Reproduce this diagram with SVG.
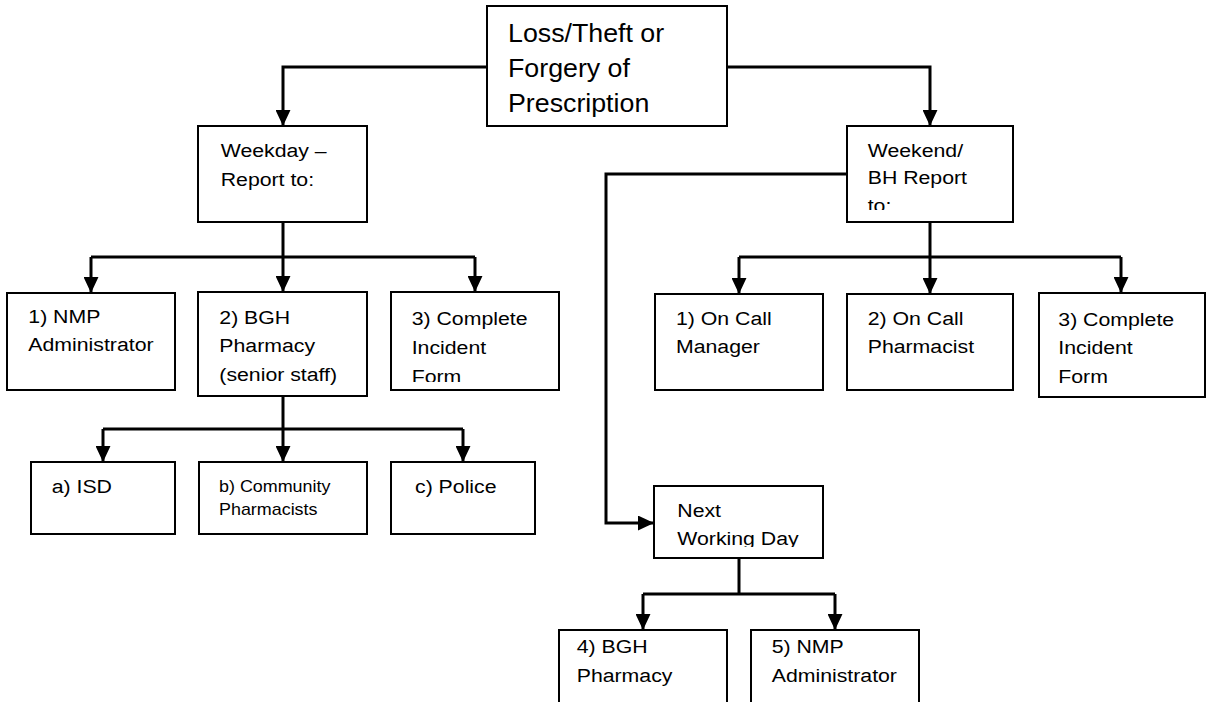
<svg xmlns="http://www.w3.org/2000/svg" width="1207" height="702" viewBox="0 0 1207 702">
<style>
.box{fill:#fff;stroke:#000;stroke-width:2}
.t{font-family:"Liberation Sans",Arial,sans-serif;font-size:19px;fill:#000}
.big{font-size:25.5px}
.sm{font-size:16px}
.c{fill:none;stroke:#000;stroke-width:3}
</style>
<defs>
<marker id="ah" markerUnits="userSpaceOnUse" viewBox="0 0 15 14" refX="15" refY="7" markerWidth="16" markerHeight="15" orient="auto"><path d="M0,0 L15,7 L0,14 z" fill="#000"/></marker>
<clipPath id="cp3L"><rect x="392" y="293" width="166" height="89"/></clipPath>
<clipPath id="cpWE"><rect x="848" y="127" width="164" height="83"/></clipPath>
<clipPath id="cpNX"><rect x="655" y="487" width="167" height="60"/></clipPath>
</defs>
<g id="connectors">
<path class="c" d="M487,67 H283 V126" marker-end="url(#ah)"/>
<path class="c" d="M727,67 H930 V126" marker-end="url(#ah)"/>
<path class="c" d="M283,222 V257"/>
<path class="c" d="M91,257 H475"/>
<path class="c" d="M91,257 V293" marker-end="url(#ah)"/>
<path class="c" d="M283,257 V292" marker-end="url(#ah)"/>
<path class="c" d="M475,257 V292" marker-end="url(#ah)"/>
<path class="c" d="M930,222 V257"/>
<path class="c" d="M739,257 H1121"/>
<path class="c" d="M739,257 V294" marker-end="url(#ah)"/>
<path class="c" d="M930,257 V294" marker-end="url(#ah)"/>
<path class="c" d="M1121,257 V293" marker-end="url(#ah)"/>
<path class="c" d="M283,396 V429"/>
<path class="c" d="M103,429 H463"/>
<path class="c" d="M103,429 V462" marker-end="url(#ah)"/>
<path class="c" d="M283,429 V462" marker-end="url(#ah)"/>
<path class="c" d="M463,429 V462" marker-end="url(#ah)"/>
<path class="c" d="M847,174 H606 V523 H654" marker-end="url(#ah)"/>
<path class="c" d="M739,558 V594"/>
<path class="c" d="M643,594 H835"/>
<path class="c" d="M643,594 V630" marker-end="url(#ah)"/>
<path class="c" d="M835,594 V630" marker-end="url(#ah)"/>
</g>
<g id="n-top">
<rect class="box" x="487" y="6" width="240" height="120"/>
<text class="t big" transform="translate(508,41.7) scale(1.05,1)"><tspan x="0" y="0">Loss/Theft or</tspan><tspan x="0" y="35">Forgery of</tspan><tspan x="0" y="70">Prescription</tspan></text>
</g>
<g id="n-weekday">
<rect class="box" x="198" y="126" width="169" height="96"/>
<text class="t" transform="translate(220.7,157.3) scale(1.12,1)"><tspan x="0" y="0">Weekday –</tspan><tspan x="0" y="28.5">Report to:</tspan></text>
</g>
<g id="n-weekend">
<rect class="box" x="847" y="126" width="166" height="96"/>
<g clip-path="url(#cpWE)">
<text class="t" transform="translate(867.7,156.7) scale(1.12,1)"><tspan x="0" y="0">Weekend/</tspan><tspan x="0" y="27.5">BH Report</tspan><tspan x="0" y="55">to:</tspan></text>
</g>
</g>
<g id="n-nmp1">
<rect class="box" x="7" y="293" width="168" height="97"/>
<text class="t" transform="translate(28.3,323) scale(1.12,1)"><tspan x="0" y="0">1) NMP</tspan><tspan x="0" y="28.5">Administrator</tspan></text>
</g>
<g id="n-bgh2">
<rect class="box" x="198" y="292" width="169" height="104"/>
<text class="t" transform="translate(219.3,324) scale(1.12,1)"><tspan x="0" y="0">2) BGH</tspan><tspan x="0" y="28.5">Pharmacy</tspan><tspan x="0" y="57">(senior staff)</tspan></text>
</g>
<g id="n-complete-wd">
<rect class="box" x="391" y="292" width="168" height="98"/>
<g clip-path="url(#cp3L)">
<text class="t" transform="translate(411.7,325) scale(1.12,1)"><tspan x="0" y="0">3) Complete</tspan><tspan x="0" y="29">Incident</tspan><tspan x="0" y="58">Form</tspan></text>
</g>
</g>
<g id="n-oncall-mgr">
<rect class="box" x="655" y="294" width="168" height="96"/>
<text class="t" transform="translate(676,325) scale(1.12,1)"><tspan x="0" y="0">1) On Call</tspan><tspan x="0" y="28">Manager</tspan></text>
</g>
<g id="n-oncall-pharm">
<rect class="box" x="847" y="294" width="166" height="96"/>
<text class="t" transform="translate(867.7,325) scale(1.12,1)"><tspan x="0" y="0">2) On Call</tspan><tspan x="0" y="28">Pharmacist</tspan></text>
</g>
<g id="n-complete-we">
<rect class="box" x="1039" y="293" width="166" height="104"/>
<text class="t" transform="translate(1058.3,325.7) scale(1.12,1)"><tspan x="0" y="0">3) Complete</tspan><tspan x="0" y="28.5">Incident</tspan><tspan x="0" y="57">Form</tspan></text>
</g>
<g id="n-isd">
<rect class="box" x="31" y="462" width="144" height="72"/>
<text class="t" transform="translate(51.7,492.7) scale(1.12,1)">a) ISD</text>
</g>
<g id="n-community">
<rect class="box" x="199" y="462" width="168" height="72"/>
<text class="t sm" transform="translate(219,491.7) scale(1.12,1)"><tspan x="0" y="0">b) Community</tspan><tspan x="0" y="23">Pharmacists</tspan></text>
</g>
<g id="n-police">
<rect class="box" x="391" y="462" width="144" height="72"/>
<text class="t" transform="translate(415,493.3) scale(1.12,1)">c) Police</text>
</g>
<g id="n-next">
<rect class="box" x="654" y="486" width="169" height="72"/>
<g clip-path="url(#cpNX)">
<text class="t" transform="translate(677.3,516.7) scale(1.12,1)"><tspan x="0" y="0">Next</tspan><tspan x="0" y="28.3">Working Day</tspan></text>
</g>
</g>
<g id="n-bgh4">
<rect class="box" x="559" y="630" width="168" height="90"/>
<text class="t" transform="translate(576.7,653.3) scale(1.12,1)"><tspan x="0" y="0">4) BGH</tspan><tspan x="0" y="29">Pharmacy</tspan></text>
</g>
<g id="n-nmp5">
<rect class="box" x="751" y="630" width="168" height="90"/>
<text class="t" transform="translate(771.7,653.3) scale(1.12,1)"><tspan x="0" y="0">5) NMP</tspan><tspan x="0" y="29">Administrator</tspan></text>
</g>
</svg>
